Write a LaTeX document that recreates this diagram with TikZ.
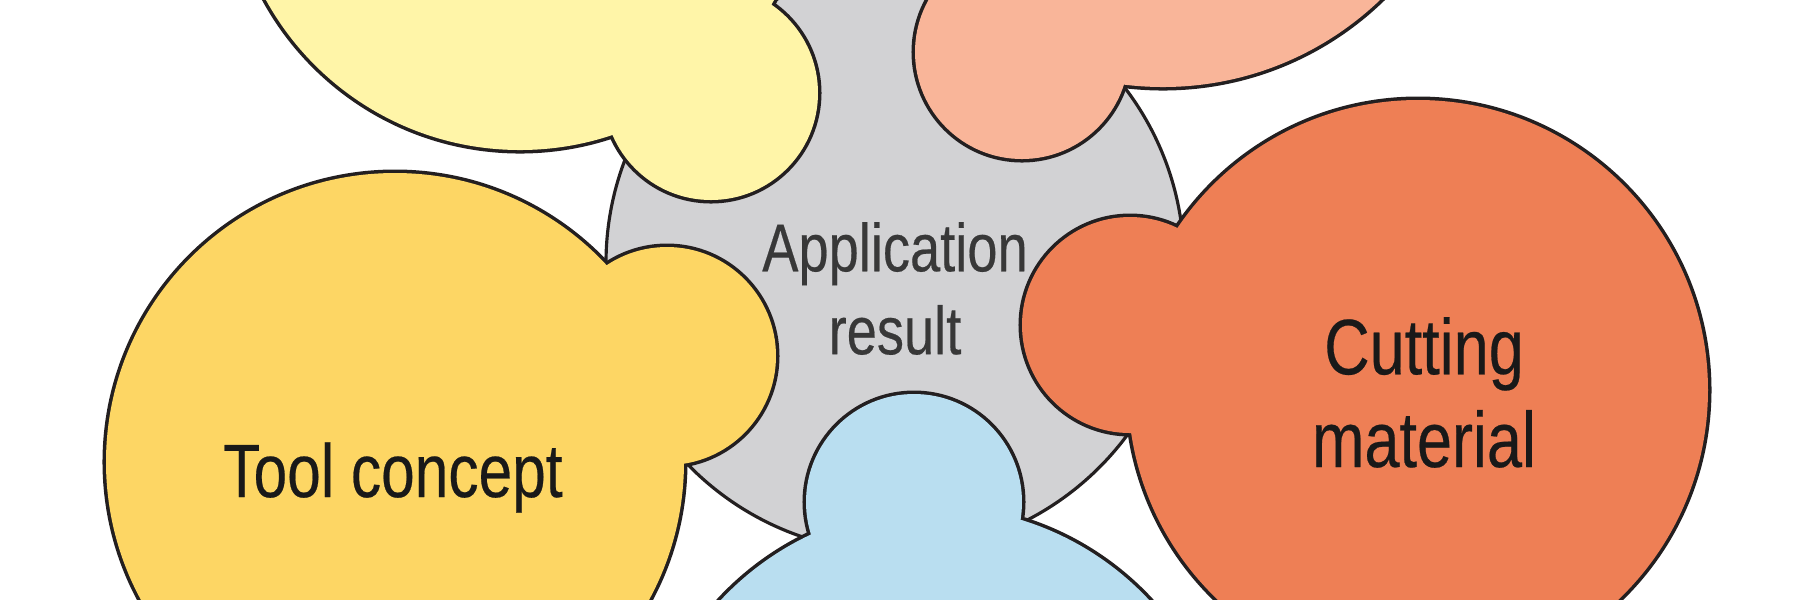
\documentclass[tikz,border=0pt]{standalone}
\usepackage{fontspec}
\newfontfamily\condfont{Liberation Sans}[FakeStretch=0.8, FakeBold=0.3]
\usepackage{tikz}

\definecolor{outline}{RGB}{35,31,32}
\definecolor{centregrey}{RGB}{210,210,212}
\definecolor{paleyellow}{RGB}{255,245,168}
\definecolor{salmon}{RGB}{249,181,153}
\definecolor{toolyellow}{RGB}{253,214,100}
\definecolor{cutorange}{RGB}{238,127,85}
\definecolor{paleblue}{RGB}{185,222,240}

\begin{document}
\begin{tikzpicture}[
		rim/.style={draw=outline, line width=2pt},
		petaltext/.style={align=center, inner sep=0pt, text=black!90}]
			\useasboundingbox (0,0) rectangle (18,-5.99);
			% centre disc
			\draw[fill=centregrey, draw=outline, line width=0.9pt] (8.95,-2.63) circle (2.89);
			
			% petals: thick rim first, then fill over the inner half
			\draw[rim, fill=paleyellow] (5.20,1.40) circle (2.90) (7.11,-0.93) circle (1.07);
			\fill[paleyellow] (5.20,1.40) circle (2.90) (7.11,-0.93) circle (1.07);
			\draw[rim, fill=salmon] (11.63,2.27) circle (3.14) (10.22,-0.52) circle (1.07);
			\fill[salmon] (11.63,2.27) circle (3.14) (10.22,-0.52) circle (1.07);
			\draw[rim, fill=toolyellow] (3.95,-4.62) circle (2.89) (6.67,-3.56) circle (1.09);
			\fill[toolyellow] (3.95,-4.62) circle (2.89) (6.67,-3.56) circle (1.09);
			\draw[rim, fill=cutorange] (14.18,-3.90) circle (2.90) (11.30,-3.25) circle (1.08);
			\fill[cutorange] (14.18,-3.90) circle (2.90) (11.30,-3.25) circle (1.08);
			\draw[rim, fill=paleblue] (9.35,-8.00) circle (2.93) (9.14,-5.02) circle (1.08);
			\fill[paleblue] (9.35,-8.00) circle (2.93) (9.14,-5.02) circle (1.08);
			
			\node[petaltext, text=black!78, font=\condfont\fontsize{19.3pt}{23.6pt}\selectfont] (result) at (8.95,-2.885) {Application\\result};
			\node[petaltext, font=\condfont\fontsize{21.5pt}{26pt}\selectfont] (tool) at (3.93,-4.775) {Tool concept};
			\node[petaltext, font=\condfont\fontsize{22.4pt}{26.4pt}\selectfont] (cutting) at (14.24,-3.925) {Cutting\\material};
	\end{tikzpicture}
\end{document}
